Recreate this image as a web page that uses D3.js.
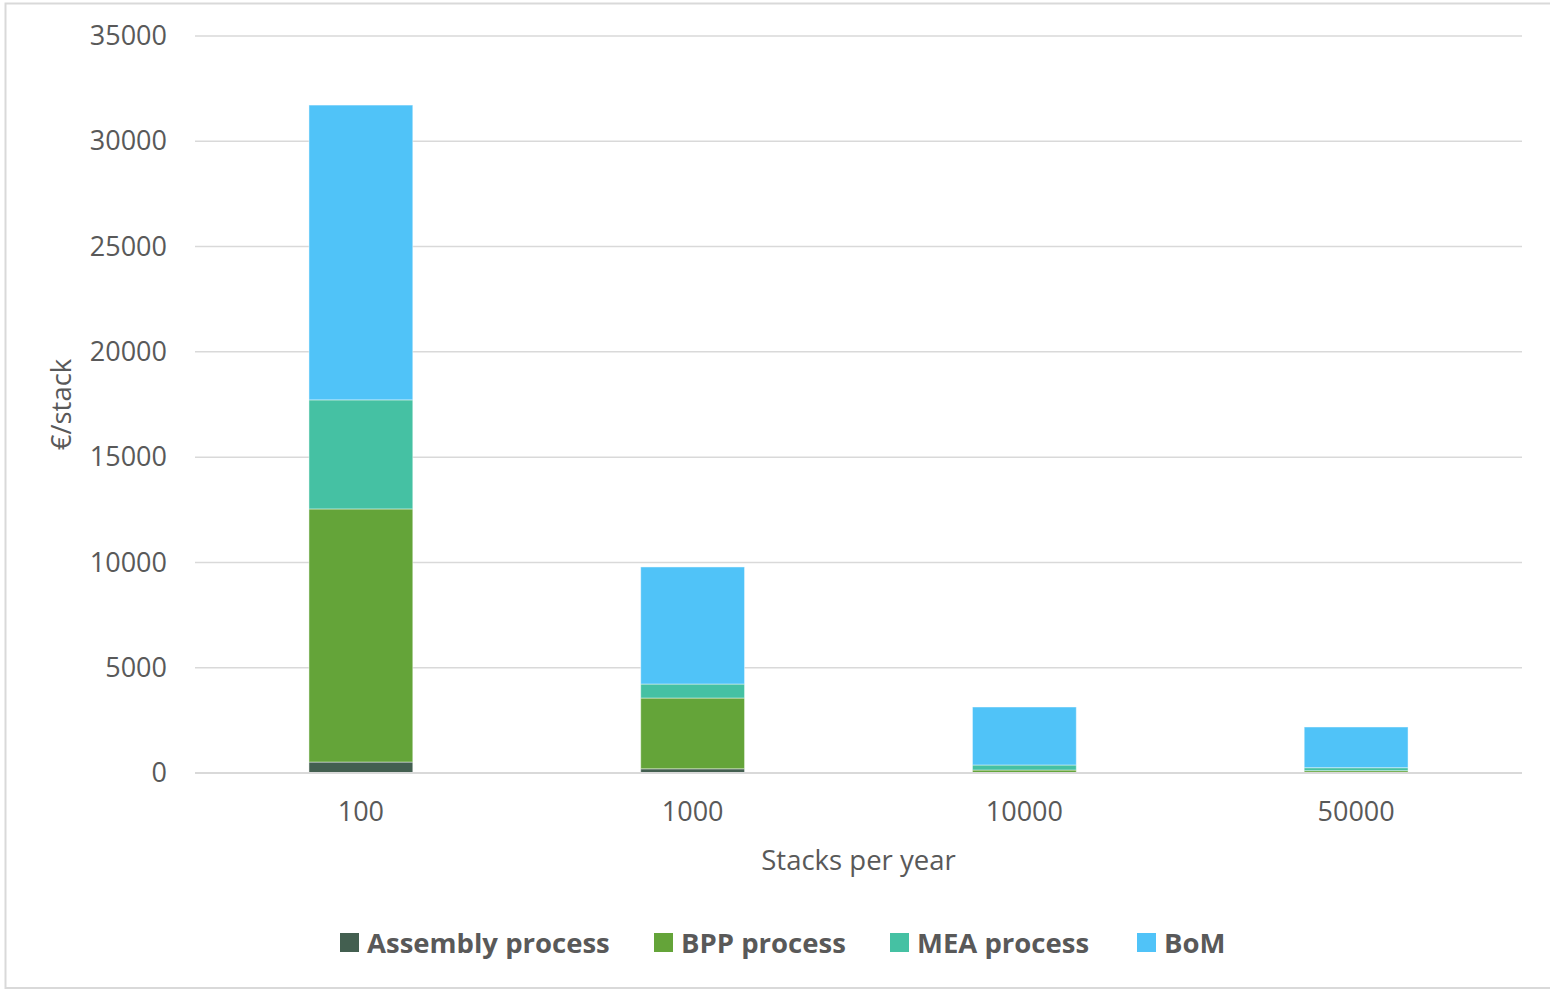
<!DOCTYPE html>
<html>
<head>
<meta charset="utf-8">
<script src="https://cdn.jsdelivr.net/npm/d3@7"></script>
<style>
  html, body { margin: 0; padding: 0; background: #fff; }
  svg { display: block; }
</style>
</head>
<body>
<svg id="chart" width="1550" height="990"></svg>
<script>
// Stack cost breakdown by annual production volume
const categories = ["100", "1000", "10000", "50000"];
const seriesNames = ["Assembly process", "BPP process", "MEA process", "BoM"];
const assembly = [520, 200, 25, 15];
const bpp = [12020, 3360, 117, 95];
const mea = [5180, 665, 238, 142];
const bom = [14000, 5560, 2754, 1933];
const yTicks = [0, 5000, 10000, 15000, 20000, 25000, 30000, 35000];
const colors = ["#435F50", "#64A439", "#45C1A3", "#50C3F8"];

const svg = d3.select("#chart");
const font = "'Open Sans', 'Noto Sans', sans-serif";
const textColor = "#595959";

// outer chart border
svg.append("rect")
  .attr("x", 5.5).attr("y", 3.5)
  .attr("width", 1560).attr("height", 984.5)
  .attr("fill", "#fff")
  .attr("stroke", "#d9d9d9").attr("stroke-width", 2);

const plot = { left: 195, right: 1522, top: 36, bottom: 773 };

const x = d3.scaleBand()
  .domain(categories)
  .range([plot.left, plot.right])
  .paddingInner(0.687)
  .paddingOuter(0.3435);

const y = d3.scaleLinear()
  .domain([0, 35000])
  .range([plot.bottom, plot.top]);

// gridlines
svg.append("g")
  .selectAll("line")
  .data(yTicks)
  .join("line")
  .attr("x1", plot.left).attr("x2", plot.right)
  .attr("y1", d => y(d)).attr("y2", d => y(d))
  .attr("stroke", "#d9d9d9").attr("stroke-width", 1.5);

// y axis labels
const yAxis = d3.axisLeft(y).tickValues(yTicks).tickSize(0).tickPadding(28).tickFormat(d3.format("d"));
svg.append("g")
  .attr("transform", `translate(${plot.left},0)`)
  .call(yAxis)
  .call(g => g.select(".domain").remove())
  .selectAll("text")
  .attr("font-family", font).attr("font-size", 27).attr("fill", textColor);

// stacked bars
const rows = categories.map((c, i) => ({
  cat: c,
  "Assembly process": assembly[i],
  "BPP process": bpp[i],
  "MEA process": mea[i],
  "BoM": bom[i]
}));
const stacked = d3.stack().keys(seriesNames)(rows);

svg.append("g")
  .selectAll("g")
  .data(stacked)
  .join("g")
  .attr("fill", (d, i) => colors[i])
  .selectAll("rect")
  .data(d => d)
  .join("rect")
  .attr("x", d => x(d.data.cat))
  .attr("width", x.bandwidth())
  .attr("y", d => y(d[1]))
  .attr("height", d => y(d[0]) - y(d[1]))
  .attr("stroke", "rgba(255,255,255,0.45)")
  .attr("stroke-width", 1);

// x axis line and labels
svg.append("line")
  .attr("x1", plot.left).attr("x2", plot.right)
  .attr("y1", plot.bottom).attr("y2", plot.bottom)
  .attr("stroke", "#d9d9d9").attr("stroke-width", 2);

const xAxis = d3.axisBottom(x).tickSize(0).tickPadding(29);
svg.append("g")
  .attr("transform", `translate(0,${plot.bottom})`)
  .call(xAxis)
  .call(g => g.select(".domain").remove())
  .selectAll("text")
  .attr("font-family", font).attr("font-size", 27).attr("fill", textColor);

// axis titles
svg.append("text")
  .attr("x", (plot.left + plot.right) / 2).attr("y", 870)
  .attr("text-anchor", "middle")
  .attr("font-family", font).attr("font-size", 27.5).attr("fill", textColor)
  .text("Stacks per year");

svg.append("text")
  .attr("transform", `translate(71,${(plot.top + plot.bottom) / 2}) rotate(-90)`)
  .attr("text-anchor", "middle")
  .attr("font-family", font).attr("font-size", 27.5).attr("fill", textColor)
  .text("€/stack");

// legend
const legendX = [340, 654, 890, 1137];
const lg = svg.append("g")
  .selectAll("g")
  .data(seriesNames)
  .join("g")
  .attr("transform", (d, i) => `translate(${legendX[i]},933)`);
lg.append("rect")
  .attr("width", 19).attr("height", 19)
  .attr("fill", (d, i) => colors[i]);
lg.append("text")
  .attr("x", 27).attr("y", 19.5)
  .attr("font-family", font).attr("font-size", 27.5).attr("font-weight", "bold")
  .attr("fill", textColor)
  .text(d => d);
</script>
</body>
</html>
